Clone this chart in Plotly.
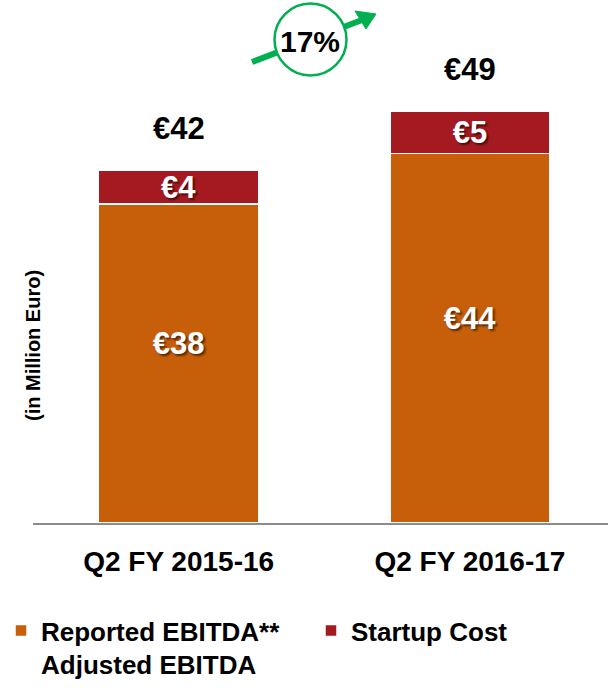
import plotly.graph_objects as go

# ---- data ----
categories = ["Q2 FY 2015-16", "Q2 FY 2016-17"]
reported_ebitda = [38, 44]
startup_cost = [4, 5]
growth_label = "17%"
y_axis_title = "(in Million Euro)"
legend_reported = "Reported EBITDA**<br>Adjusted EBITDA"
legend_startup = "Startup Cost"

totals = [r + s for r, s in zip(reported_ebitda, startup_cost)]

FONT = "Liberation Sans, Arial, sans-serif"
ORANGE = "#C65E0A"
RED = "#A51A21"
GREEN = "#00B050"

W, H = 608, 688
ML, MR, MT, MB = 33, 0, 0, 165
PW = W - ML - MR
PH = H - MT - MB


def px(x):
    return (x - ML) / PW


def py(y):
    return (H - MB - y) / PH


label_font = dict(family=FONT, size=31, color="white", weight="bold",
                  shadow="2px 2px 2px rgba(0,0,0,0.55)")

fig = go.Figure()
fig.add_trace(go.Bar(
    x=categories, y=reported_ebitda, name=legend_reported,
    marker=dict(color=ORANGE, line=dict(color="white", width=1.5)),
    width=0.55, legendwidth=265,
    text=[f"€{v}<br>\u00a0" for v in reported_ebitda], textposition="inside",
    insidetextanchor="middle", textangle=0, constraintext="none",
    textfont=label_font, hoverinfo="skip",
))
fig.add_trace(go.Bar(
    x=categories, y=startup_cost, name=legend_startup,
    marker=dict(color=RED, line=dict(color="white", width=1.5)),
    width=0.55, legendwidth=180,
    text=[f"€{v}" for v in startup_cost], textposition="inside",
    insidetextanchor="middle", textangle=0, constraintext="none",
    textfont=label_font, hoverinfo="skip",
))

annotations = []
for c, t in zip(categories, totals):
    annotations.append(dict(
        x=c, y=t, xref="x", yref="y", text=f"€{t}", showarrow=False,
        yanchor="middle", yshift=42,
        font=dict(family=FONT, size=31, color="black", weight="bold"),
    ))

# y-axis title (rotated)
annotations.append(dict(
    x=px(33), y=py(346), xref="paper", yref="paper", text=y_axis_title,
    textangle=-90, showarrow=False, xanchor="center", yanchor="middle",
    font=dict(family=FONT, size=20, color="black", weight="bold"),
))

# growth label inside circle
annotations.append(dict(
    x=px(310), y=py(42), xref="paper", yref="paper", text=growth_label,
    showarrow=False, xanchor="center", yanchor="middle",
    font=dict(family=FONT, size=30, color="black", weight="bold"),
))

shapes = [
    # arrow shaft
    dict(type="line", xref="paper", yref="paper",
         x0=px(252), y0=py(62), x1=px(362), y1=py(20),
         line=dict(color=GREEN, width=6)),
    # arrow head
    dict(type="path", xref="paper", yref="paper",
         path=f"M {px(355)} {py(11)} L {px(376)} {py(14)} L {px(366)} {py(29)} Z",
         fillcolor=GREEN, line=dict(color=GREEN, width=1)),
    # circle
    dict(type="circle", xref="paper", yref="paper",
         x0=px(274.5), x1=px(346.5), y0=py(75.5), y1=py(3.5),
         fillcolor="white", line=dict(color=GREEN, width=2.5)),
]

fig.update_layout(
    width=W, height=H,
    margin=dict(l=ML, r=MR, t=MT, b=MB),
    paper_bgcolor="white", plot_bgcolor="white",
    barmode="stack",
    showlegend=True,
    legend=dict(
        orientation="h", xref="container", yref="container",
        x=1 / W, xanchor="left", y=(H - 607) / H, yanchor="top",
        font=dict(family=FONT, size=26, color="black", weight="bold"),
        valign="top",
        itemwidth=30, traceorder="normal",
    ),
    xaxis=dict(
        type="category", range=[-0.5, 1.474],
        showline=True, linecolor="#8C8C8C", linewidth=2,
        ticks="", showgrid=False, zeroline=False,
        tickfont=dict(family=FONT, size=28, color="black", weight="bold"),
        ticklabelstandoff=12,
    ),
    yaxis=dict(
        range=[0, PH / 8.4], visible=False, showgrid=False, zeroline=False,
    ),
    annotations=annotations,
    shapes=shapes,
)

fig.write_html("out.html", config={"displayModeBar": False},
               post_script="document.body.style.margin='0px';")
